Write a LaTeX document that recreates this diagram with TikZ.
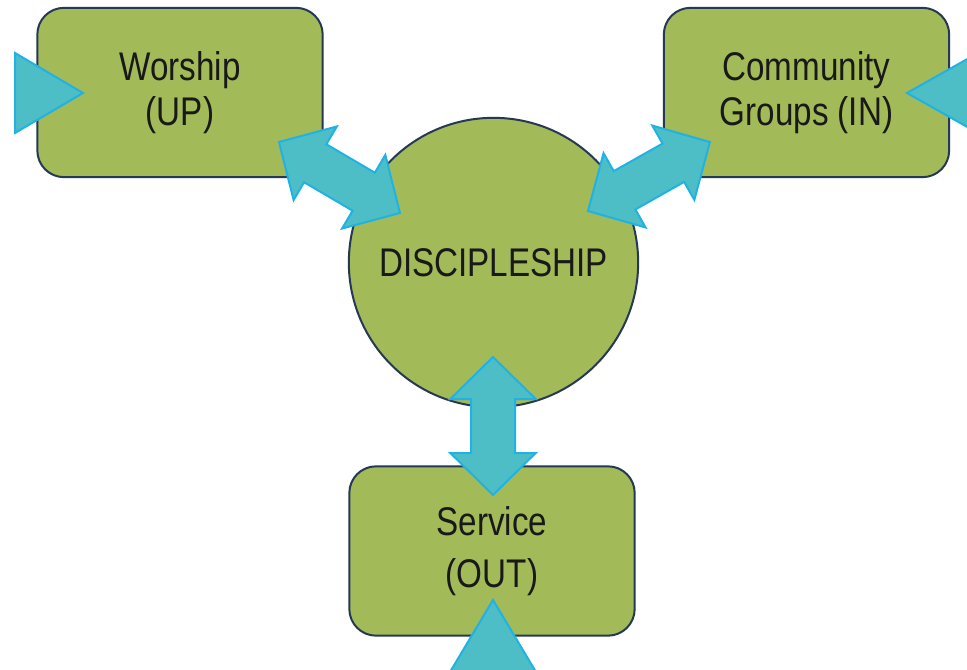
\documentclass[tikz,border=0pt]{standalone}
\usepackage{fontspec}
\setmainfont{Liberation Sans}[FakeStretch=0.83]
\usetikzlibrary{calc}
\definecolor{olive}{RGB}{162,186,88}
\definecolor{navy}{RGB}{38,56,84}
\definecolor{teal}{RGB}{78,190,198}
\definecolor{cyanrim}{RGB}{32,178,228}
\tikzset{
  box/.style = {draw = navy, line width = 1.5pt, fill = olive, rounded corners = 20pt,
    minimum width = 214pt, minimum height = 127pt, align = center, text = black!90,
    font = \fontsize{30}{34}\selectfont},
  disc/.style = {circle, draw = navy, line width = 1.5pt, fill = olive,
    minimum size = 217pt, inner sep = 0pt, text = black!90, font = \fontsize{30}{34}\selectfont},
  blockarrow/.style = {draw = cyanrim, line width = 1.5pt, fill = teal, line join = miter}
}
\newcommand\blockarrow[2]{%
  \draw[blockarrow] let \p1 = ($(#2)-(#1)$), \n1 = {atan2(\y1,\x1)}, \n2 = {veclen(\x1,\y1)} in
    {[shift = {(#1)}, rotate = \n1]
      (0pt,0pt) -- (31.5pt,32pt) -- (31.5pt,16.5pt) -- ({\n2*1pt-31.5pt},16.5pt)
      -- ({\n2*1pt-31.5pt},32pt) -- ({\n2*1pt},0pt) -- ({\n2*1pt-31.5pt},-32pt)
      -- ({\n2*1pt-31.5pt},-16.5pt) -- (31.5pt,-16.5pt) -- (31.5pt,-32pt) -- cycle};
}
\begin{document}
\begin{tikzpicture}[x = 0.75pt, y = -0.75pt]
\clip (0,0) rectangle (967,670);
\fill[white] (0,0) rectangle (967,670);
\node[box] (worship) at (180,92.5) {Worship\\(UP)};
\node[box] (community) at (806.5,92.5) {Community\\Groups (IN)};
\node[box, font = \fontsize{30}{39}\selectfont] (service) at (492,551) {Service\\(OUT)};
\node[disc] (disc) at (493.5,262.5) {DISCIPLESHIP};
\coordinate (worship-tip) at (279,142);
\coordinate (disc-w) at (400,213);
\coordinate (disc-c) at (588,211);
\coordinate (community-tip) at (710,142);
\coordinate (disc-s) at (493,357);
\coordinate (service-tip) at (493,495);
\blockarrow{worship-tip}{disc-w}
\blockarrow{disc-c}{community-tip}
\blockarrow{disc-s}{service-tip}
\draw[blockarrow] (15,53) -- (83,93) -- (15,133) -- cycle;
\draw[blockarrow] (978,53) -- (907,93) -- (978,133) -- cycle;
\draw[blockarrow] (450,672) -- (493,600) -- (536,672) -- cycle;
\end{tikzpicture}
\end{document}
